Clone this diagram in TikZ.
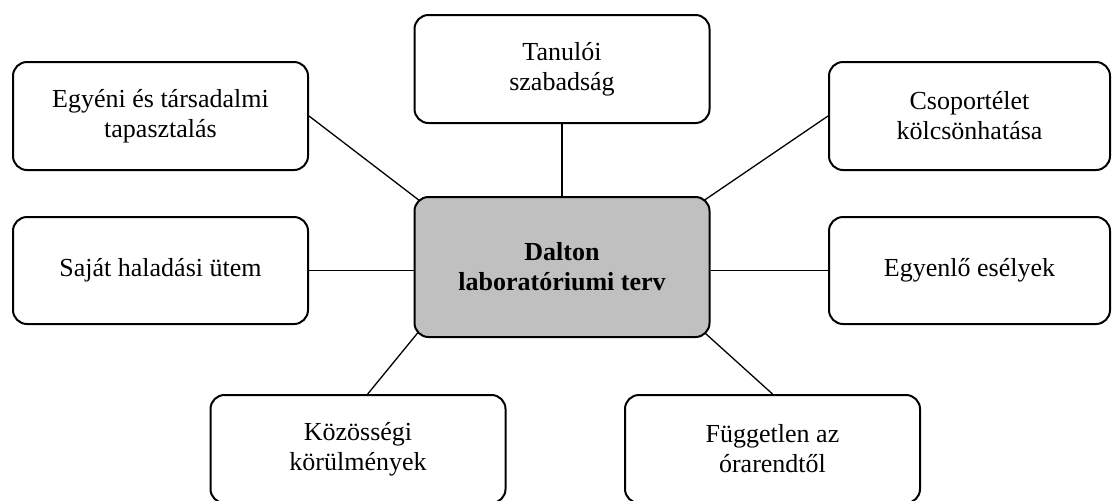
\documentclass[tikz,border=0pt]{standalone}
\usepackage{fontspec}
\setmainfont{Liberation Serif}
\usetikzlibrary{backgrounds}
\definecolor{labgray}{RGB}{192,192,192}
\tikzset{box/.style={draw, line width=1pt, rounded corners=7pt, fill=white,
    align=center, inner sep=0pt, minimum width=147.5pt, minimum height=54pt,
    font=\fontsize{13pt}{15pt}\selectfont}
}
\tikzset{box-r/.style={box, minimum width=140.5pt}
}
\tikzset{main/.style={box, fill=labgray, minimum height=70pt,
    font=\fontsize{13pt}{15pt}\selectfont\bfseries}
}
\tikzset{link/.style={line width=0.65pt}
}
\begin{document}
\begin{tikzpicture}[x=0.5pt, y=-0.5pt, line join=round]
\useasboundingbox (0,0) rectangle (1112,500);
\clip (0,0) rectangle (1112,500);

\node[main] (dalton) at (562,267) {Dalton\\laboratóriumi terv};

\node[box] (egyeni) at (160.5,116) {Egyéni és társadalmi\\tapasztalás};
\node[box] (tanuloi) at (562,69) {Tanulói\\szabadság};
\node[box-r] (csoport) at (969.5,116) {Csoportélet\\kölcsönhatása};

\node[box, minimum height=53.5pt] (sajat) at (160.5,270.5) {Saját haladási ütem};
\node[box-r, minimum height=53.5pt] (egyenlo) at (969.5,270.5) {Egyenlő esélyek};

\node[box] (kozossegi) at (358,449) {Közösségi\\körülmények};
\node[box] (fuggetlen) at (772.5,449) {Független az\\órarendtől};

% corner links run under the grey box
\begin{scope}[on background layer]
    \draw[link, shorten <=-4pt] (dalton.north west) -- (egyeni.east);
    \draw[link] (dalton.north) -- (tanuloi.south);
    \draw[link, shorten <=-4pt] (dalton.north east) -- (csoport.west);
    \draw[link] (sajat.east -| dalton.west) -- (sajat.east);
    \draw[link] (egyenlo.west -| dalton.east) -- (egyenlo.west);
    \draw[link, shorten <=-4pt] (dalton.south west) -- (kozossegi.80);
    \draw[link, shorten <=-4pt] (dalton.south east) -- (fuggetlen.north);
\end{scope}

\end{tikzpicture}
\end{document}
